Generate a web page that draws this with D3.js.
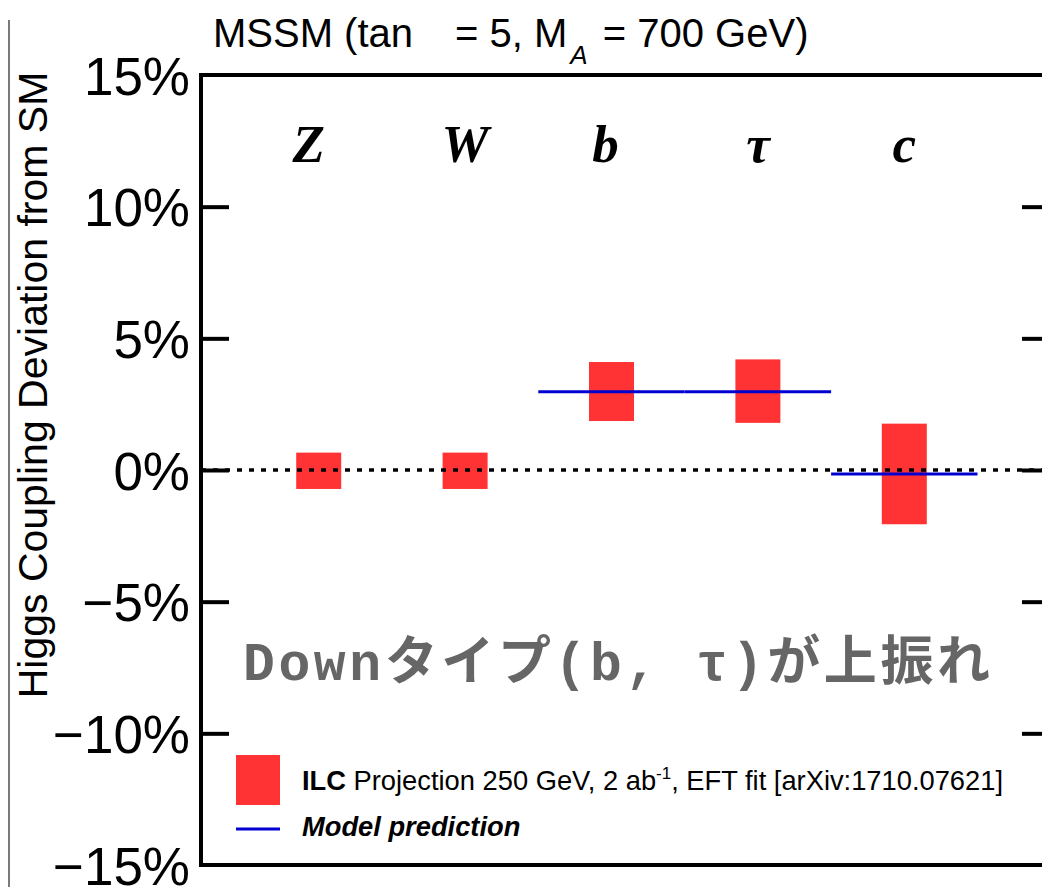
<!DOCTYPE html>
<html>
<head>
<meta charset="utf-8">
<script src="https://cdn.jsdelivr.net/npm/d3@7"></script>
<style>
  html, body { margin: 0; padding: 0; background: #fff; }
  svg { display: block; }
</style>
</head>
<body>
<svg id="chart" width="1042" height="887"></svg>
<script>
// Higgs coupling deviations: ILC projection ranges and MSSM prediction
const categories = ["Z", "W", "b", "τ", "c"];
const ilcLow  = [-0.72, -0.72, 1.86, 1.79, -2.06];   // % lower edge of projection box
const ilcHigh = [ 0.66,  0.66, 4.10, 4.20,  1.76];   // % upper edge of projection box
const modelPrediction = [null, null, 2.97, 2.97, -0.15]; // % MSSM prediction
const yTickValues = [-15, -10, -5, 0, 5, 10, 15];
const innerTickValues = [-10, -5, 0, 5, 10];

const svg = d3.select("#chart");
const W = 1042, H = 887;

const frame = { left: 201, top: 75, bottom: 865, right: 1050 };
const bandStart = 245.5, bandEnd = 977.5;
const barWidth = 45;
// small horizontal nudges for the particle labels
const labelNudge = { Z: -10, W: 0, b: -6, "τ": 0, c: 0 };

const y = d3.scaleLinear().domain([-15, 15]).range([frame.bottom, frame.top]);
const x = d3.scaleBand().domain(categories).range([bandStart, bandEnd]).padding(0);

const rows = categories.map((c, i) => ({
  cat: c, lo: ilcLow[i], hi: ilcHigh[i], pred: modelPrediction[i]
}));

// thin page edge line at far left
svg.append("line")
  .attr("x1", 9).attr("x2", 9).attr("y1", 20).attr("y2", H)
  .attr("stroke", "#222").attr("stroke-width", 1.2);

// projection boxes
svg.append("g").selectAll("rect")
  .data(rows).join("rect")
  .attr("x", d => x(d.cat) + x.bandwidth() / 2 - barWidth / 2)
  .attr("width", barWidth)
  .attr("y", d => y(d.hi))
  .attr("height", d => y(d.lo) - y(d.hi))
  .attr("fill", "#ff3333");

// model prediction segments across each category band
svg.append("g").selectAll("line")
  .data(rows.filter(d => d.pred !== null)).join("line")
  .attr("x1", d => x(d.cat))
  .attr("x2", d => x(d.cat) + x.bandwidth())
  .attr("y1", d => y(d.pred)).attr("y2", d => y(d.pred))
  .attr("stroke", "#0000d0").attr("stroke-width", 3);

// SM reference (zero) line
svg.append("line")
  .attr("x1", frame.left).attr("x2", frame.right)
  .attr("y1", y(0)).attr("y2", y(0))
  .attr("stroke", "#000").attr("stroke-width", 3.5)
  .attr("stroke-dasharray", "5,7");

// frame
svg.append("rect")
  .attr("x", frame.left).attr("y", frame.top)
  .attr("width", frame.right - frame.left)
  .attr("height", frame.bottom - frame.top)
  .attr("fill", "none").attr("stroke", "#000").attr("stroke-width", 4);

const fmt = d => (d < 0 ? "\u2212" : "") + Math.abs(d) + "%";

// left axis: inward ticks, percentage labels
const leftAxis = svg.append("g")
  .attr("transform", `translate(${frame.left},0)`)
  .call(d3.axisLeft(y).tickValues(yTickValues).tickFormat(fmt)
    .tickSizeInner(-28).tickSizeOuter(0).tickPadding(11));
leftAxis.select(".domain").remove();
leftAxis.selectAll(".tick line")
  .attr("stroke", "#000").attr("stroke-width", 4)
  .attr("display", d => innerTickValues.includes(d) ? null : "none");
leftAxis.selectAll(".tick text")
  .attr("font-family", "Liberation Sans, Arial, Helvetica, sans-serif")
  .attr("font-size", 53).attr("fill", "#000").attr("dy", "0.36em");

// right axis: inward ticks only
const rightAxis = svg.append("g")
  .attr("transform", `translate(${frame.right},0)`)
  .call(d3.axisRight(y).tickValues(innerTickValues).tickFormat("")
    .tickSizeInner(-28).tickSizeOuter(0));
rightAxis.select(".domain").remove();
rightAxis.selectAll(".tick line").attr("stroke", "#000").attr("stroke-width", 4);

// category labels
svg.append("g").selectAll("text")
  .data(categories).join("text")
  .attr("x", d => x(d) + x.bandwidth() / 2 + labelNudge[d])
  .attr("y", 162)
  .attr("text-anchor", "middle")
  .attr("font-family", "Liberation Serif, Times New Roman, serif")
  .attr("font-style", "italic").attr("font-weight", "bold")
  .attr("font-size", 53)
  .text(d => d);

// y-axis title
svg.append("text")
  .attr("transform", "translate(47,385) rotate(-90)")
  .attr("text-anchor", "middle")
  .attr("font-family", "Liberation Sans, Arial, Helvetica, sans-serif")
  .attr("font-size", 41)
  .text("Higgs Coupling Deviation from SM");

// title (the beta glyph is absent, leaving a gap after "tan")
const title = svg.append("text")
  .attr("x", 213).attr("y", 47)
  .attr("font-family", "Liberation Sans, Arial, Helvetica, sans-serif")
  .attr("font-size", 40);
title.append("tspan").text("MSSM (tan");
title.append("tspan").attr("dx", 42).text("= 5, M");
title.append("tspan").attr("font-size", 26).attr("font-style", "italic")
  .attr("dx", 3).attr("dy", 17).text("A");
title.append("tspan").attr("dy", -17).attr("dx", 4).text(" = 700 GeV)");

// legend
const legendFont = "Liberation Sans, Arial, Helvetica, sans-serif";
svg.append("rect")
  .attr("x", 236).attr("y", 755).attr("width", 44).attr("height", 50)
  .attr("fill", "#ff3333");
const lt = svg.append("text")
  .attr("x", 302).attr("y", 790)
  .attr("font-family", legendFont).attr("font-size", 27.3);
lt.append("tspan").attr("font-weight", "bold").text("ILC");
lt.append("tspan").text(" Projection 250 GeV, 2 ab");
lt.append("tspan").attr("font-size", 17).attr("dy", -11).text("-1");
lt.append("tspan").attr("dy", 11).text(", EFT fit [arXiv:1710.07621]");

svg.append("line")
  .attr("x1", 236).attr("x2", 280).attr("y1", 829).attr("y2", 829)
  .attr("stroke", "#0000d0").attr("stroke-width", 3);
svg.append("text")
  .attr("x", 302).attr("y", 836)
  .attr("font-family", legendFont).attr("font-size", 27.3)
  .attr("font-weight", "bold").attr("font-style", "italic")
  .text("Model prediction");

// annotation
svg.append("text")
  .attr("x", 243).attr("y", 680)
  .attr("font-family", "Liberation Mono, Noto Sans CJK JP, monospace")
  .attr("font-weight", "bold")
  .attr("font-size", 53)
  .attr("fill", "#666666")
  .attr("textLength", 747).attr("lengthAdjust", "spacing")
  .text("Downタイプ(b, τ)が上振れ");
</script>
</body>
</html>
